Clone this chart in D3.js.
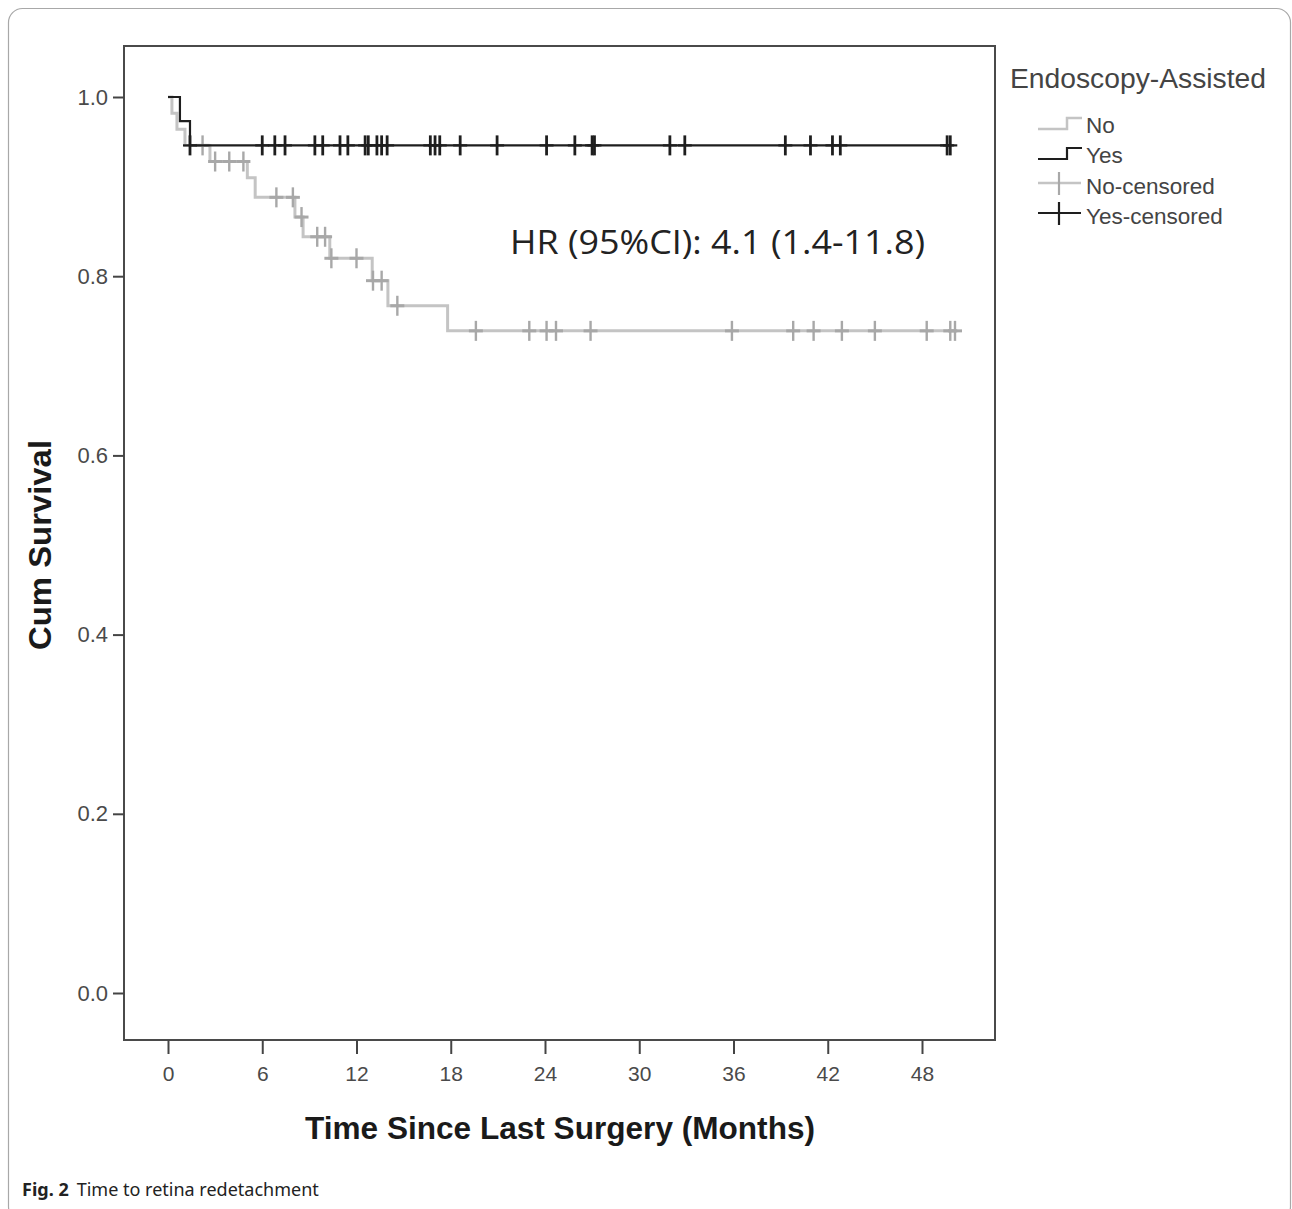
<!DOCTYPE html>
<html>
<head>
<meta charset="utf-8">
<script src="https://cdn.jsdelivr.net/npm/d3@7"></script>
<style>
  body { margin: 0; background: #fff; }
</style>
</head>
<body>
<div id="chart"></div>
<script>
// ticks
var timeTicks = [0, 6, 12, 18, 24, 30, 36, 42, 48];
var survTicks = [0.0, 0.2, 0.4, 0.6, 0.8, 1.0];

// Endoscopy-Assisted = No (grey)
var noStepTimes = [0, 0.25, 0.57, 1.08, 2.67, 5.05, 5.55, 8.08, 8.6, 10.3, 13.0, 14.0, 17.8];
var noStepSurv  = [1.0, 0.982, 0.964, 0.946, 0.928, 0.910, 0.888, 0.866, 0.844, 0.820, 0.795, 0.767, 0.739];
var noCensored  = [2.2, 3.0, 3.9, 4.8, 6.9, 7.95, 8.5, 9.5, 10.0, 10.4, 12.0, 13.05, 13.6, 14.6,
                   19.6, 23.0, 24.1, 24.7, 26.9, 35.9, 39.8, 41.1, 42.9, 45.0, 48.3, 49.8, 50.1];

// Endoscopy-Assisted = Yes (black)
var yesStepTimes = [0, 0.76, 1.4];
var yesStepSurv  = [1.0, 0.973, 0.946];
var yesCensored  = [1.4, 6.0, 6.8, 7.45, 9.35, 9.85, 10.95, 11.45, 12.55, 12.75, 13.3, 13.6, 13.95,
                    16.7, 17.0, 17.3, 18.6, 20.95, 24.1, 25.9, 27.0, 27.15, 31.95, 32.9,
                    39.3, 40.9, 42.3, 42.8, 49.6, 49.8];

var legendLabels = ["No", "Yes", "No-censored", "Yes-censored"];

var W = 1292, H = 1209;
var frame = { left: 124, right: 995, top: 46, bottom: 1040 };
var greyLine = "#c4c4c4", greyMark = "#a8a8a8", darkLine = "#1e1e1e";

var svg = d3.select("#chart").append("svg")
    .attr("width", W)
    .attr("height", H);

// outer figure border
svg.append("rect")
   .attr("x", 8.5).attr("y", 8.5)
   .attr("width", 1282).attr("height", 1212)
   .attr("rx", 14)
   .attr("fill", "none")
   .attr("stroke", "#a8a8a8")
   .attr("stroke-width", 1.2);

var x = d3.scaleLinear().domain([0, 48]).range([168, 922]);
var y = d3.scaleLinear().domain([0, 1]).range([993, 97]);

// plot frame
svg.append("rect")
   .attr("x", frame.left).attr("y", frame.top)
   .attr("width", frame.right - frame.left)
   .attr("height", frame.bottom - frame.top)
   .attr("fill", "none")
   .attr("stroke", "#4a4a4a")
   .attr("stroke-width", 2);

// axes
var xAxis = svg.append("g")
   .attr("transform", `translate(0,${frame.bottom})`)
   .call(d3.axisBottom(x).tickValues(timeTicks).tickSize(14).tickSizeOuter(0).tickPadding(12));
xAxis.select(".domain").remove();
xAxis.selectAll("line").attr("stroke", "#444").attr("stroke-width", 2);
xAxis.selectAll("text")
     .style("font-family", "'Liberation Sans', Arial, sans-serif")
     .style("font-size", "21px")
     .attr("fill", "#4a4a4a");

var yAxis = svg.append("g")
   .attr("transform", `translate(${frame.left},0)`)
   .call(d3.axisLeft(y).tickValues(survTicks).tickFormat(d3.format(".1f")).tickSize(11).tickSizeOuter(0).tickPadding(5));
yAxis.select(".domain").remove();
yAxis.selectAll("line").attr("stroke", "#444").attr("stroke-width", 2);
yAxis.selectAll("text")
     .style("font-family", "'Liberation Sans', Arial, sans-serif")
     .style("font-size", "22px")
     .attr("fill", "#4a4a4a");

// axis titles
svg.append("text")
   .attr("x", 560).attr("y", 1139)
   .attr("text-anchor", "middle")
   .attr("textLength", 510)
   .attr("lengthAdjust", "spacingAndGlyphs")
   .style("font-family", "'Liberation Sans', Arial, sans-serif")
   .style("font-size", "32px")
   .style("font-weight", "bold")
   .attr("fill", "#1a1a1a")
   .text("Time Since Last Surgery (Months)");

svg.append("text")
   .attr("transform", "translate(51,545) rotate(-90)")
   .attr("text-anchor", "middle")
   .attr("textLength", 210)
   .attr("lengthAdjust", "spacingAndGlyphs")
   .style("font-family", "'Liberation Sans', Arial, sans-serif")
   .style("font-size", "32px")
   .style("font-weight", "bold")
   .attr("fill", "#1a1a1a")
   .text("Cum Survival");

// step helpers
function stepPoints(times, surv, end) {
    var pts = times.map((t, i) => [t, surv[i]]);
    pts.push([end, surv[surv.length - 1]]);
    return pts;
}
function survAt(times, surv, t) {
    var s = surv[0];
    times.forEach((tt, i) => { if (tt <= t) s = surv[i]; });
    return s;
}

var stepLine = d3.line()
    .x(d => x(d[0]))
    .y(d => y(d[1]))
    .curve(d3.curveStepAfter);

function drawGroup(times, surv, censored, lineColor, markColor, lw, mw) {
    var g = svg.append("g");
    g.append("path")
     .datum(stepPoints(times, surv, d3.max(censored)))
     .attr("d", stepLine)
     .attr("fill", "none")
     .attr("stroke", lineColor)
     .attr("stroke-width", lw);
    var marks = g.selectAll(".cens")
     .data(censored)
     .enter().append("g")
     .attr("transform", d => `translate(${x(d)},${y(survAt(times, surv, d))})`);
    marks.append("line")
     .attr("x1", 0).attr("x2", 0).attr("y1", -10).attr("y2", 10)
     .attr("stroke", markColor).attr("stroke-width", mw);
    marks.append("line")
     .attr("x1", -7).attr("x2", 7).attr("y1", 0).attr("y2", 0)
     .attr("stroke", markColor).attr("stroke-width", lw);
}

drawGroup(noStepTimes, noStepSurv, noCensored, greyLine, greyMark, 3, 2.4);
drawGroup(yesStepTimes, yesStepSurv, yesCensored, darkLine, darkLine, 2.2, 2.8);

// hazard ratio annotation
svg.append("text")
   .attr("x", 510).attr("y", 254)
   .attr("textLength", 415)
   .attr("lengthAdjust", "spacingAndGlyphs")
   .style("font-family", "'Open Sans', sans-serif")
   .style("font-size", "33px")
   .attr("fill", "#222")
   .text("HR (95%CI): 4.1 (1.4-11.8)");

// legend
var legend = svg.append("g").style("font-family", "'Liberation Sans', Arial, sans-serif");
legend.append("text")
   .attr("x", 1010).attr("y", 88)
   .attr("textLength", 256)
   .attr("lengthAdjust", "spacingAndGlyphs")
   .style("font-size", "27px")
   .attr("fill", "#444")
   .text("Endoscopy-Assisted");

var rowY = [125, 155, 186, 216];
var rowColor = [greyLine, darkLine, greyMark, darkLine];
legendLabels.forEach((lab, i) => {
    var yy = rowY[i];
    if (i < 2) {
        legend.append("path")
          .attr("d", `M1038,${yy + 4}H1067V${yy - 7}H1082`)
          .attr("fill", "none")
          .attr("stroke", rowColor[i])
          .attr("stroke-width", i == 0 ? 2.5 : 2.2);
    } else {
        legend.append("line")
          .attr("x1", 1038).attr("x2", 1081).attr("y1", yy - 3).attr("y2", yy - 3)
          .attr("stroke", i == 2 ? greyLine : darkLine).attr("stroke-width", i == 2 ? 2.5 : 2.2);
        legend.append("line")
          .attr("x1", 1059).attr("x2", 1059).attr("y1", yy - 14).attr("y2", yy + 9)
          .attr("stroke", rowColor[i]).attr("stroke-width", 2.2);
    }
    legend.append("text")
      .attr("x", 1086).attr("y", yy + 8)
      .style("font-size", "22.5px")
      .attr("fill", "#444")
      .text(lab);
});

// figure caption
var cap = svg.append("text")
   .attr("x", 22).attr("y", 1196)
   .style("font-family", "'Noto Sans', sans-serif")
   .style("font-size", "18px")
   .attr("fill", "#222");
cap.append("tspan").style("font-weight", "bold").text("Fig. 2");
cap.append("tspan").attr("dx", 8).text("Time to retina redetachment");
</script>
</body>
</html>
